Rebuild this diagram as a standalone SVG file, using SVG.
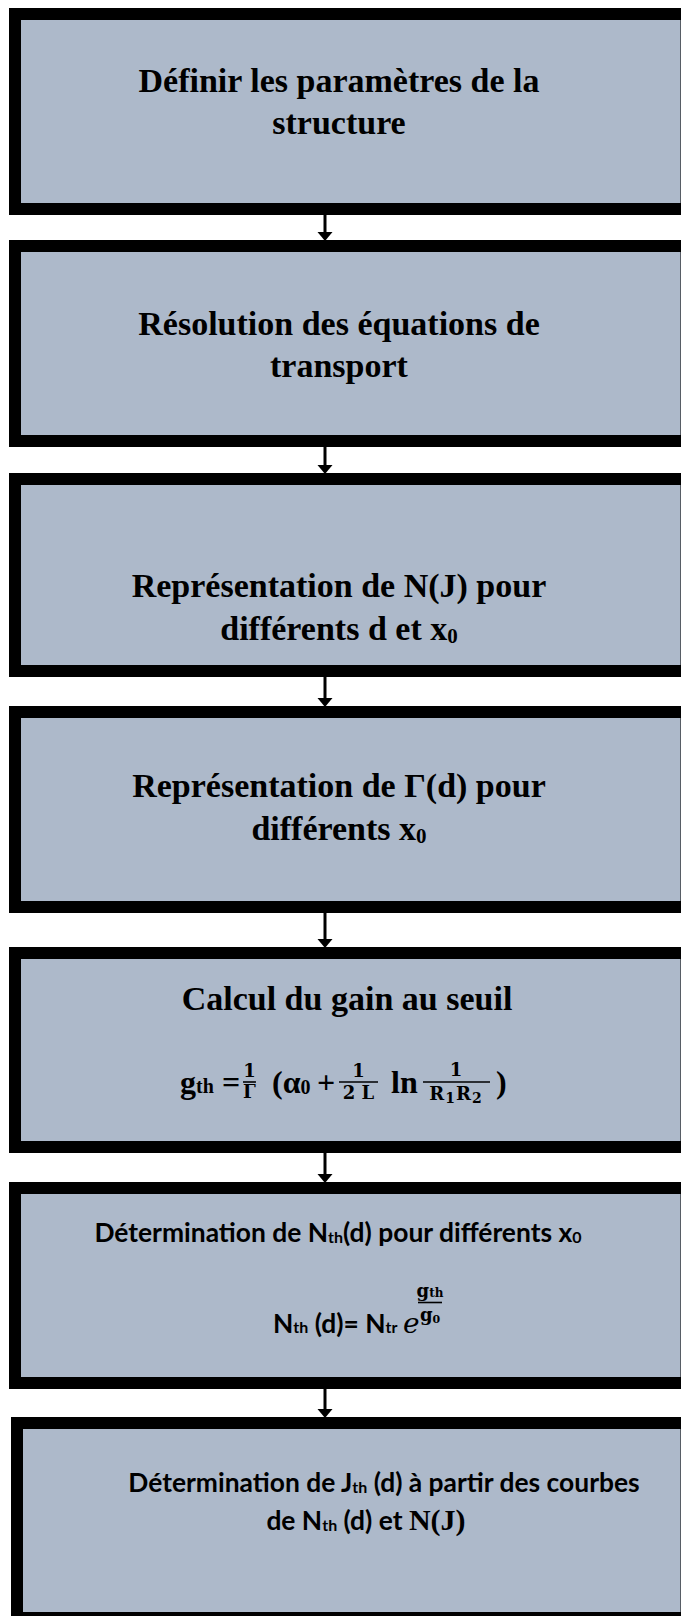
<svg xmlns="http://www.w3.org/2000/svg" width="681" height="1616" viewBox="0 0 681 1616">
  <style>
    .box { fill: #ADB9CA; stroke: #000; stroke-width: 12; }
    .t { font-family: "Liberation Serif", "Times New Roman", serif; font-weight: bold; font-size: 34px; fill: #000; text-anchor: middle; }
    .m { font-family: "Liberation Serif", "Times New Roman", serif; font-weight: bold; font-size: 32px; fill: #000; }
    .f { font-family: "DejaVu Serif", "Liberation Serif", serif; font-weight: bold; font-size: 18px; fill: #000; text-anchor: middle; }
    .c { font-family: Lato, "Open Sans", sans-serif; font-weight: bold; font-size: 26.4px; fill: #000; text-anchor: middle; }
    .cs { font-family: Lato, "Open Sans", sans-serif; font-weight: bold; font-size: 26.4px; fill: #000; }
    .bar { stroke: #000; stroke-width: 1.6; }
    .link { stroke: #000; stroke-width: 3; fill: none; }
    .head { fill: #000; }
  </style>

  <!-- connectors -->
  <g id="connectors">
    <line class="link" x1="325" y1="215" x2="325" y2="233"/>
    <polygon class="head" points="317.5,232 332.5,232 325,241"/>
    <line class="link" x1="325" y1="447" x2="325" y2="466"/>
    <polygon class="head" points="317.5,465 332.5,465 325,474"/>
    <line class="link" x1="325" y1="677" x2="325" y2="699"/>
    <polygon class="head" points="317.5,698 332.5,698 325,707"/>
    <line class="link" x1="325" y1="913" x2="325" y2="940"/>
    <polygon class="head" points="317.5,939 332.5,939 325,948"/>
    <line class="link" x1="325" y1="1153" x2="325" y2="1175"/>
    <polygon class="head" points="317.5,1174 332.5,1174 325,1183"/>
    <line class="link" x1="325" y1="1389" x2="325" y2="1410"/>
    <polygon class="head" points="317.5,1409 332.5,1409 325,1418"/>
  </g>

  <!-- step 1 -->
  <g id="step1">
    <rect class="box" x="15" y="14" width="671.5" height="195"/>
    <text class="t" x="339" y="92">Définir les paramètres de la</text>
    <text class="t" x="339" y="134">structure</text>
  </g>

  <!-- step 2 -->
  <g id="step2">
    <rect class="box" x="15" y="246" width="671.5" height="195"/>
    <text class="t" x="339" y="335">Résolution des équations de</text>
    <text class="t" x="339" y="377">transport</text>
  </g>

  <!-- step 3 -->
  <g id="step3">
    <rect class="box" x="15" y="479" width="671.5" height="192"/>
    <text class="t" x="339" y="597" font-size="33.5">Représentation de N(J) pour</text>
    <text class="t" x="339" y="640" font-size="33.5">différents d et x<tspan font-size="21" dy="3">0</tspan></text>
  </g>

  <!-- step 4 -->
  <g id="step4">
    <rect class="box" x="15" y="712" width="671.5" height="195"/>
    <text class="t" x="339" y="797" font-size="33.5">Représentation de Γ(d) pour</text>
    <text class="t" x="339" y="840" font-size="33.5">différents x<tspan font-size="21" dy="3">0</tspan></text>
  </g>

  <!-- step 5 : threshold gain -->
  <g id="step5">
    <rect class="box" x="15" y="953" width="671.5" height="194"/>
    <text class="t" x="347" y="1010" font-size="32">Calcul du gain au seuil</text>
    <text class="m" x="180" y="1093">g<tspan font-size="20">th</tspan></text>
    <text class="m" x="222" y="1093">=</text>
    <text class="f" x="249.5" y="1077">1</text>
    <line class="bar" x1="243" y1="1082" x2="256" y2="1082"/>
    <text class="f" x="249.5" y="1098">Γ</text>
    <text class="m" x="272" y="1093">(α<tspan font-size="20" dy="1">0</tspan></text>
    <text class="m" x="317" y="1093">+</text>
    <text class="f" x="358.5" y="1077">1</text>
    <line class="bar" x1="339" y1="1082" x2="378" y2="1082"/>
    <text class="f" x="358.5" y="1099" font-size="17">2 L</text>
    <text class="m" x="391" y="1093">ln</text>
    <text class="f" x="456" y="1076">1</text>
    <line class="bar" x1="423" y1="1082" x2="490" y2="1082"/>
    <text class="f" x="456" y="1100" font-size="18" letter-spacing="1">R<tspan font-size="14" dy="3">1</tspan><tspan dy="-3">R</tspan><tspan font-size="14" dy="3">2</tspan></text>
    <text class="m" x="496" y="1093">)</text>
  </g>

  <!-- step 6 : threshold density -->
  <g id="step6">
    <rect class="box" x="15" y="1188" width="671.5" height="195"/>
    <text class="c" x="338" y="1242">Détermination de N<tspan font-size="16" dy="1">th</tspan><tspan dy="-1">(d) pour différents x</tspan><tspan font-size="16" dy="1">0</tspan></text>
    <text class="cs" x="273" y="1333">N<tspan font-size="16">th</tspan> (d)= N<tspan font-size="16">tr</tspan></text>
    <text x="403" y="1333" font-family="'DejaVu Serif', serif" font-style="italic" font-size="28" fill="#000">e</text>
    <text class="f" x="430" y="1297" font-size="16">g<tspan font-size="12">th</tspan></text>
    <line class="bar" x1="418" y1="1302.5" x2="442" y2="1302.5" stroke-width="1.4"/>
    <text class="f" x="430" y="1321" font-weight="normal" font-size="15">g<tspan font-size="11" dy="2">0</tspan></text>
  </g>

  <!-- step 7 : threshold current -->
  <g id="step7">
    <rect class="box" x="17" y="1423" width="669.5" height="195"/>
    <text class="c" x="384" y="1492" font-size="27.8">Détermination de J<tspan font-size="16" dy="1">th</tspan><tspan dy="-1"> (d) à partir des courbes</tspan></text>
    <text class="c" x="366" y="1530" font-size="27.8">de N<tspan font-size="16" dy="1">th</tspan><tspan dy="-1"> (d) et </tspan><tspan font-family="'Liberation Serif', serif" font-size="30">N(J)</tspan></text>
  </g>
</svg>
